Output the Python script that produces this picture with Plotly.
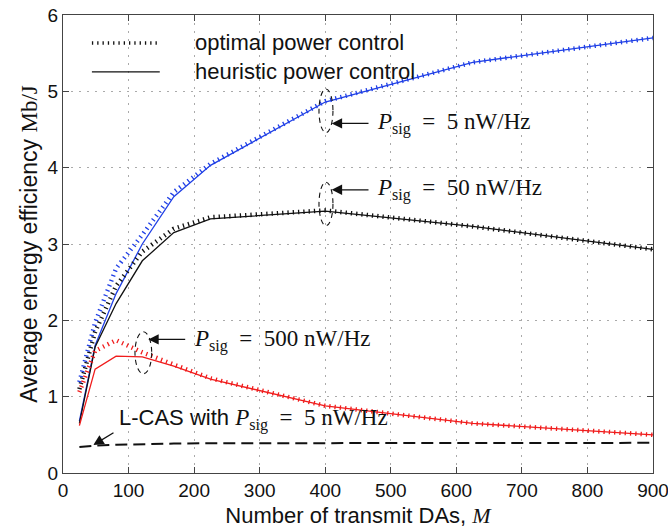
import plotly.graph_objects as go

M = [25, 49, 81, 121, 169, 225, 400, 625, 900]

heur_5 = [0.68, 1.67, 2.35, 3.00, 3.62, 4.03, 4.86, 5.38, 5.70]
opt_5 = [1.19, 1.97, 2.68, 3.12, 3.68, 4.05, 4.87, 5.38, 5.70]

heur_50 = [0.65, 1.65, 2.22, 2.78, 3.15, 3.33, 3.43, 3.23, 2.93]
opt_50 = [1.10, 1.85, 2.45, 2.90, 3.20, 3.35, 3.44, 3.23, 2.93]

heur_500 = [0.62, 1.36, 1.53, 1.52, 1.40, 1.23, 0.88, 0.65, 0.50]
opt_500 = [1.06, 1.60, 1.74, 1.58, 1.42, 1.24, 0.88, 0.65, 0.50]

lcas_5 = [0.34, 0.36, 0.37, 0.38, 0.385, 0.39, 0.39, 0.395, 0.395]

BLUE = "#1f3fe6"
RED = "#f01c1c"
BLACK = "#111111"
TICKDASH = "1.3px,4px"
SERIF = "Liberation Serif, DejaVu Serif, serif"
SANS = "Liberation Sans, Arial, sans-serif"

fig = go.Figure()

for y, c in [(heur_5, BLUE), (heur_50, BLACK), (heur_500, RED)]:
    fig.add_trace(go.Scatter(x=M, y=y, mode="lines", line=dict(color=c, width=1.3),
                             showlegend=False, hoverinfo="skip"))
for y, c in [(opt_50, BLACK), (opt_5, BLUE), (opt_500, RED)]:
    fig.add_trace(go.Scatter(x=M, y=y, mode="lines", line=dict(color=c, width=4.5, dash=TICKDASH),
                             showlegend=False, hoverinfo="skip"))
fig.add_trace(go.Scatter(x=M, y=lcas_5, mode="lines", line=dict(color=BLACK, width=2, dash="12px,6px"),
                         showlegend=False, hoverinfo="skip"))

shapes = []
# legend samples (paper coords)
shapes.append(dict(type="line", xref="paper", yref="paper", x0=0.049, x1=0.164, y0=0.939, y1=0.939,
                   line=dict(color=BLACK, width=3.5, dash=TICKDASH)))
shapes.append(dict(type="line", xref="paper", yref="paper", x0=0.049, x1=0.164, y0=0.876, y1=0.876,
                   line=dict(color=BLACK, width=1.2)))
# ellipses
for x0, x1, y0, y1 in [(390.5, 411.8, 4.46, 5.03), (390.5, 411.8, 3.24, 3.81), (109.8, 135.3, 1.30, 1.85)]:
    shapes.append(dict(type="circle", xref="x", yref="y", x0=x0, x1=x1, y0=y0, y1=y1,
                       line=dict(color=BLACK, width=1.1, dash="5px,4px")))

annotations = [
    dict(xref="paper", yref="paper", x=0.220, y=0.939, text="optimal power control", showarrow=False,
         xanchor="left", yanchor="middle", font=dict(family=SANS, size=22, color=BLACK)),
    dict(xref="paper", yref="paper", x=0.220, y=0.876, text="heuristic power control", showarrow=False,
         xanchor="left", yanchor="middle", font=dict(family=SANS, size=22, color=BLACK)),
]
arrows = [(409.9, 4.58, 468.3, 4.58), (409.9, 3.71, 468.3, 3.71), (130.1, 1.75, 188.7, 1.75),
          (46.2, 0.366, 79.3, 0.54)]
for hx, hy, tx, ty in arrows:
    annotations.append(dict(xref="x", yref="y", axref="x", ayref="y", x=hx, y=hy, ax=tx, ay=ty,
                            text="", showarrow=True, arrowhead=2, arrowsize=1.6, arrowwidth=1.3,
                            arrowcolor=BLACK))
labels = [(476, 4.58, "5"), (476, 3.71, "50"), (197, 1.73, "500")]
for x, y, v in labels:
    annotations.append(dict(xref="x", yref="y", x=x, y=y, xanchor="left", yanchor="middle", showarrow=False,
                            text=f"<i>P</i><sub>sig</sub>  =  {v} nW/Hz",
                            font=dict(family=SERIF, size=23, color=BLACK)))
annotations.append(dict(xref="x", yref="y", x=83, y=0.70, xanchor="left", yanchor="middle", showarrow=False,
                        text="L-CAS with <span style='font-family:Liberation Serif;font-size:23px'><i>P</i><sub>sig</sub>  =  5 nW/Hz</span>",
                        font=dict(family=SANS, size=22, color=BLACK)))

axis_common = dict(showline=True, linecolor="#444", linewidth=1.3, mirror="ticks", ticks="inside",
                   ticklen=6, tickcolor="#444", showgrid=True, gridcolor="#aaaaaa", gridwidth=1,
                   griddash="2px,6px", zeroline=False, ticklabeloverflow="allow", automargin=False,
                   tickfont=dict(family=SANS, size=19, color=BLACK))

fig.update_layout(
    width=668, height=531, margin=dict(l=63, r=15, t=15, b=58, autoexpand=False),
    paper_bgcolor="white", plot_bgcolor="white",
    shapes=shapes, annotations=annotations,
    xaxis=dict(range=[0, 900], tickvals=list(range(0, 901, 100)),
               title=dict(text="Number of transmit DAs, <i style='font-family:Liberation Serif'>M</i>",
                          font=dict(family=SANS, size=22, color=BLACK), standoff=7),
               **axis_common),
    yaxis=dict(range=[0, 6], tickvals=list(range(0, 7)),
               title=dict(text="Average energy efficiency <span style='font-family:Liberation Serif'>Mb/J</span>",
                          font=dict(family=SANS, size=23, color=BLACK), standoff=3),
               **axis_common),
)

fig.write_html("out.html")
